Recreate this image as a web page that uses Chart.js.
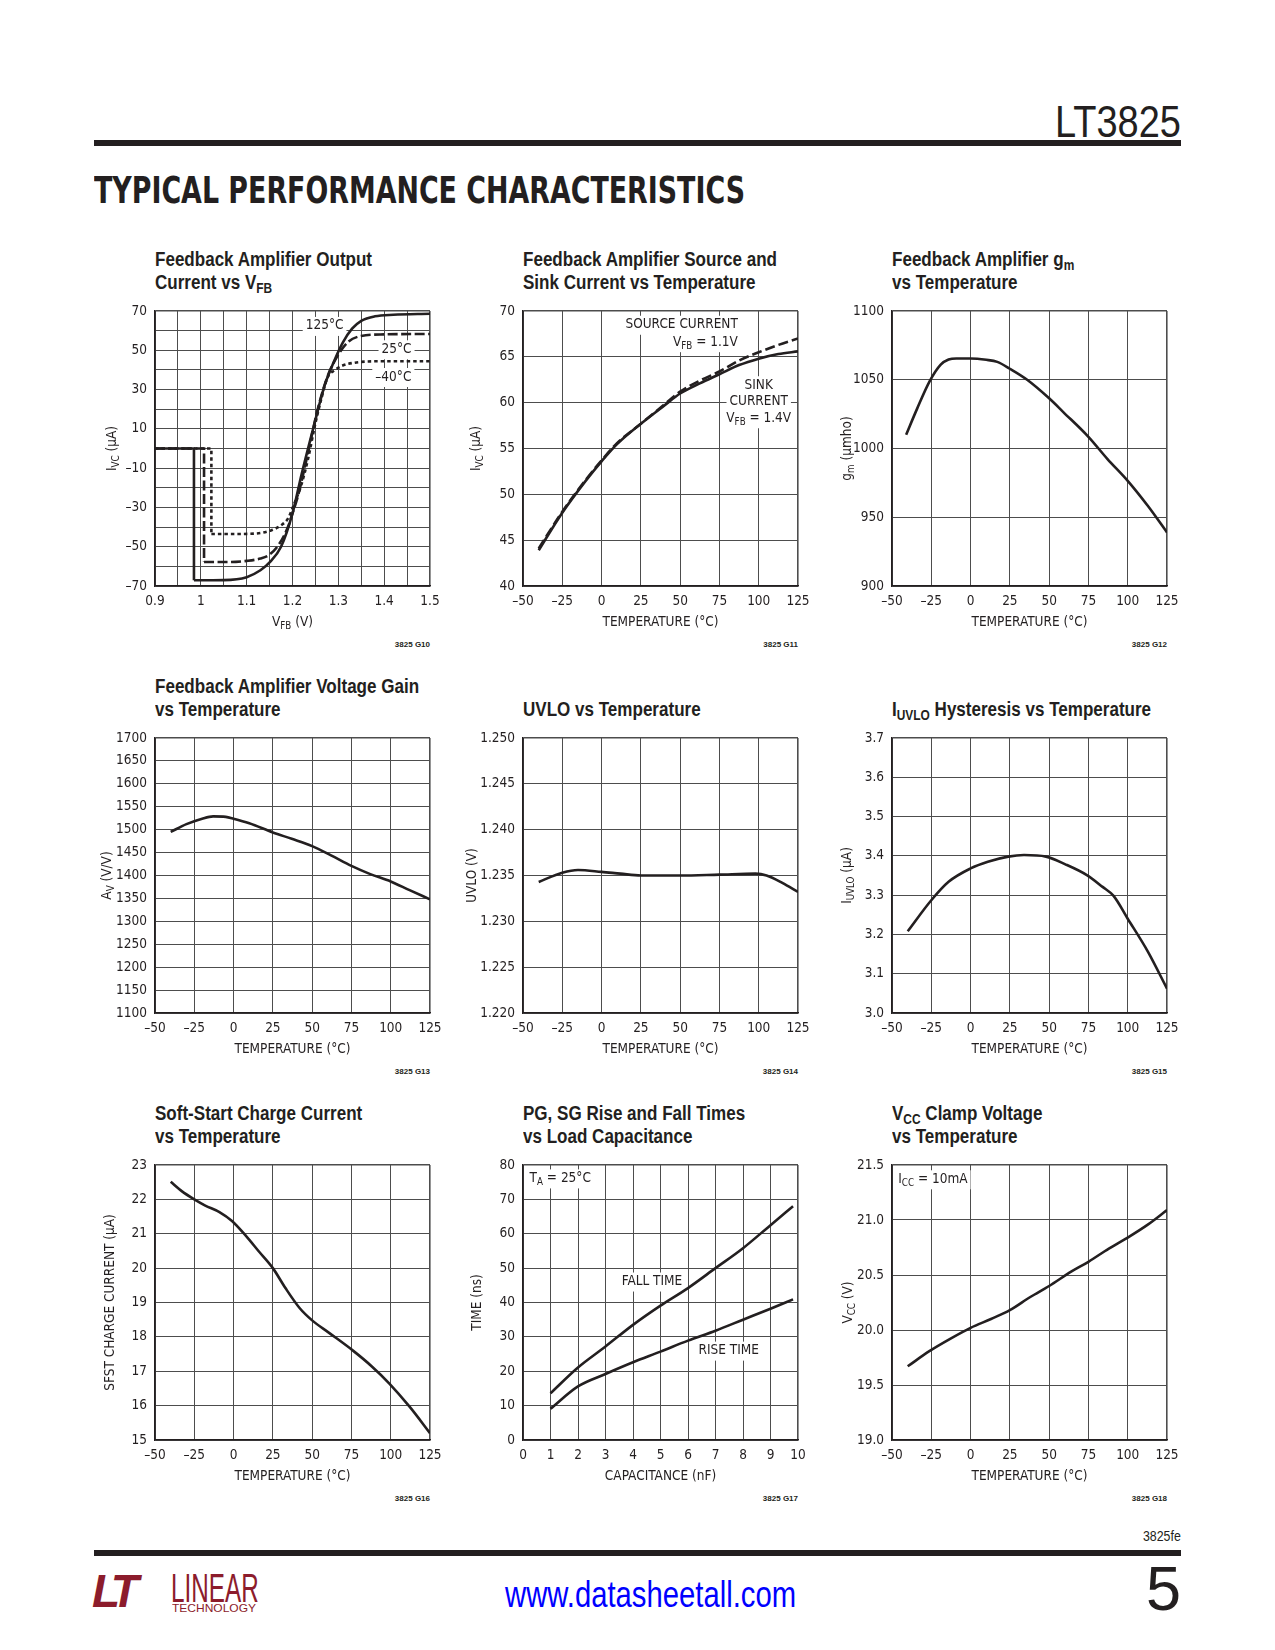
<!DOCTYPE html>
<html>
<head>
<meta charset="utf-8">
<title>LT3825 Typical Performance Characteristics</title>
<script src="https://cdn.jsdelivr.net/npm/chart.js@4.4.1/dist/chart.umd.min.js"></script>
<style>
  body { margin: 0; background: #fff; }
  #page { position: relative; width: 1275px; height: 1650px; overflow: hidden; color: #231f20;
          font-family: 'Liberation Sans', Arial, sans-serif; }
  .fit { position: absolute; display: inline-block; white-space: nowrap; }
  .rule { position: absolute; left: 94px; width: 1087px; height: 6px; background: #231f20; }
  .part { right: 94px; top: 100px; font-size: 44px; line-height: 44px; transform-origin: right top; }
  .section { left: 94px; top: 172px; font: bold 37px/37px 'DejaVu Sans Condensed', sans-serif; transform-origin: left top; }
  .ctitle { position: absolute; font-weight: bold; font-size: 20px; line-height: 23px; white-space: nowrap; transform-origin: left top; }
  .ctitle sub { font-size: 14px; line-height: 0; vertical-align: -4px; }
  .fig { position: absolute; font-weight: bold; font-size: 8px; line-height: 8px; }
  canvas { position: absolute; }
  .docno { right: 94px; top: 1529px; font-size: 14px; line-height: 14px; transform-origin: right top; }
  .lt { position: absolute; left: 92px; top: 1568px; font: italic bold 46px/46px 'Liberation Sans', sans-serif; color: #8c1c2c; letter-spacing: -6px; }
  .linear { left: 171px; top: 1572px; font-size: 40px; line-height: 32px; color: #8c1c2c; transform-origin: left top; }
  .tech { left: 172px; top: 1603px; font-size: 11px; line-height: 11px; color: #8c1c2c; transform-origin: left top; }
  .url { left: 505px; top: 1577px; font-size: 36px; line-height: 36px; color: #0000ff; transform-origin: left top; }
  .pageno { position: absolute; right: 94px; top: 1557px; font: 63px/63px 'Liberation Sans', sans-serif; }
</style>
</head>
<body>
<div id="page">
  <div class="fit part" data-w="126">LT3825</div>
  <div class="rule" style="top:140px"></div>
  <div class="fit section" data-w="651">TYPICAL PERFORMANCE CHARACTERISTICS</div>
  <div class="fit docno" data-w="38">3825fe</div>
  <div class="rule" style="top:1550px"></div>
  <div class="lt">LT</div>
  <div class="fit linear" data-w="88">LINEAR</div>
  <div class="fit tech" data-w="84">TECHNOLOGY</div>
  <div class="fit url" data-w="291">www.datasheetall.com</div>
  <div class="pageno">5</div>
</div>
<script>
// ---- data ----
const tempTicks = [-50, -25, 0, 25, 50, 75, 100, 125];

// G10: feedback amplifier output current vs VFB
const vfbTicks = [0.9, 1, 1.1, 1.2, 1.3, 1.4, 1.5];
const ivcTicks = [-70, -50, -30, -10, 10, 30, 50, 70];
const vfb125 = [0.9, 0.985, 0.985, 1.05, 1.1, 1.13, 1.15, 1.175, 1.2, 1.22, 1.245, 1.27, 1.29, 1.31, 1.33, 1.35, 1.38, 1.42, 1.5];
const ivc125 = [0, 0, -67.1, -67, -65.5, -62, -58, -50, -33, -13, 10, 32, 44, 54, 61, 65, 67.3, 68.1, 68.6];
const vfb25 = [0.9, 1.007, 1.007, 1.06, 1.1, 1.13, 1.15, 1.17, 1.19, 1.2, 1.212, 1.234, 1.255, 1.277, 1.299, 1.321, 1.35, 1.4, 1.5];
const ivc25 = [0, 0, -57.8, -57.8, -57.2, -56, -54, -49, -40, -33, -24, -2, 20, 37, 47.4, 54.2, 57.3, 58.1, 58.3];
const vfbM40 = [0.9, 1.023, 1.023, 1.08, 1.12, 1.153, 1.175, 1.19, 1.204, 1.219, 1.234, 1.249, 1.263, 1.277, 1.292, 1.307, 1.336, 1.387, 1.5];
const ivcM40 = [0, 0, -43.5, -43.5, -43.3, -41.7, -39.1, -35.7, -28, -18.7, -5.2, 11.8, 25.4, 36.4, 39.8, 42, 43.7, 44.4, 44.4];

// G11: source and sink current vs temperature
const ivcTempTicks = [40, 45, 50, 55, 60, 65, 70];
const srcTemp = [-40, -25, -10, 0, 10, 25, 40, 50, 62.5, 75, 87.5, 100, 112.5, 125];
const sinkIvc = [43.9, 48.0, 51.5, 53.6, 55.5, 57.7, 59.7, 61.0, 62.1, 63.1, 64.1, 64.8, 65.3, 65.6];
const sourceIvc = [44.1, 48.1, 51.6, 53.7, 55.6, 57.7, 59.8, 61.2, 62.4, 63.4, 64.6, 65.5, 66.3, 67.0];

// G12: gm vs temperature
const gmTicks = [900, 950, 1000, 1050, 1100];
const gmTemp = [-41, -34, -26, -19, -14, -9, 0, 10, 17, 25, 36, 50, 59, 75, 87, 100, 113, 125];
const gmVal = [1010, 1029, 1049, 1061, 1064.7, 1065.5, 1065.5, 1064.5, 1063, 1058, 1050, 1036.5, 1026.5, 1008.5, 992.5, 976.5, 958, 939];

// G13: voltage gain vs temperature
const avTicks = [1100, 1150, 1200, 1250, 1300, 1350, 1400, 1450, 1500, 1550, 1600, 1650, 1700];
const avTemp = [-40, -30, -20, -13, -5, 0, 10, 25, 37, 50, 62, 75, 87, 100, 112, 125];
const avVal = [1495, 1512, 1524, 1529, 1528, 1524, 1514, 1494, 1480, 1464, 1444, 1421, 1403, 1387, 1368, 1348];

// G14: UVLO vs temperature
const uvloTicks = [1.220, 1.225, 1.230, 1.235, 1.240, 1.245, 1.250];
const uvloTemp = [-40, -25, -15, 0, 12, 25, 50, 75, 98, 105, 115, 125];
const uvloVal = [1.2343, 1.2353, 1.2356, 1.2354, 1.2352, 1.2350, 1.2350, 1.2351, 1.2352, 1.2350, 1.2342, 1.2332];

// G15: IUVLO hysteresis vs temperature
const iuvloTicks = [3.0, 3.1, 3.2, 3.3, 3.4, 3.5, 3.6, 3.7];
const iuvloTemp = [-40, -25, -14, 0, 11, 24, 34, 48, 60, 74, 84, 91, 100, 113, 125];
const iuvloVal = [3.208, 3.287, 3.334, 3.368, 3.385, 3.398, 3.402, 3.398, 3.379, 3.351, 3.321, 3.298, 3.24, 3.155, 3.062];

// G16: soft-start charge current vs temperature
const sfstTicks = [15, 16, 17, 18, 19, 20, 21, 22, 23];
const sfstTemp = [-40, -33, -25, -18, -9, -1, 8, 16, 25, 33, 42, 50, 61, 76, 88, 99, 112, 125];
const sfstVal = [22.51, 22.24, 22.0, 21.82, 21.63, 21.37, 20.93, 20.49, 20.0, 19.42, 18.84, 18.48, 18.11, 17.6, 17.14, 16.65, 15.97, 15.2];

// G17: PG, SG rise and fall times vs load capacitance
const capTicks = [0, 1, 2, 3, 4, 5, 6, 7, 8, 9, 10];
const timeTicks = [0, 10, 20, 30, 40, 50, 60, 70, 80];
const capNf = [1, 2, 3, 4, 5, 6, 7, 8, 9, 9.82];
const fallNs = [13.6, 21.1, 27.2, 33.5, 39.1, 44.2, 50.0, 55.8, 62.5, 68.0];
const riseNs = [9.1, 15.6, 19.2, 22.6, 25.7, 28.9, 31.8, 35.0, 38.2, 40.9];

// G18: VCC clamp voltage vs temperature
const vccTicks = [19.0, 19.5, 20.0, 20.5, 21.0, 21.5];
const vccTemp = [-40, -26, -13, 0, 13, 25, 38, 50, 64, 75, 88, 100, 113, 125];
const vccVal = [19.67, 19.81, 19.92, 20.02, 20.10, 20.18, 20.30, 20.40, 20.53, 20.62, 20.74, 20.84, 20.96, 21.09];

// ---- drawing ----
const FONT = "'DejaVu Sans Condensed', sans-serif";
const INK = '#231f20';
const GRID = '#4d4d4d';
const TXT = 13.5;
// canvas margins around the plot; PT/PR leave room for Chart.js label padding
const YW = 70, XH = 50, PT = 20, PR = 28;
const COLS = [155, 523, 892];
const ROWS = [311, 738, 1165];
const PW = 275, PH = 275;

const dash = s => s.replace('-', '\u2013');
const pts = (xs, ys) => xs.map((x, i) => ({ x, y: ys[i] }));

function richWidth(ctx, parts) {
  let w = 0;
  for (const [t, sub] of parts) {
    ctx.font = (sub ? TXT * 0.72 : TXT) + 'px ' + FONT;
    w += ctx.measureText(t).width;
  }
  return w;
}

function drawRich(ctx, parts, x, y, align) {
  const w = richWidth(ctx, parts);
  let cx = align === 'center' ? x - w / 2 : align === 'right' ? x - w : x;
  ctx.textBaseline = 'middle';
  ctx.textAlign = 'left';
  ctx.fillStyle = INK;
  for (const [t, sub] of parts) {
    ctx.font = (sub ? TXT * 0.72 : TXT) + 'px ' + FONT;
    ctx.fillText(t, cx, sub ? y + TXT * 0.3 : y);
    cx += ctx.measureText(t).width;
  }
}

const sheetText = {
  id: 'sheetText',
  beforeDatasetsDraw(chart, args, opts) {
    const { ctx, scales: { x, y } } = chart;
    ctx.save();
    ctx.fillStyle = '#fff';
    for (const n of opts.notes) {
      const w = richWidth(ctx, n.parts);
      const px = x.getPixelForValue(n.x), py = y.getPixelForValue(n.y);
      const left = n.align === 'center' ? px - w / 2 : n.align === 'right' ? px - w : px;
      ctx.fillRect(left - 3, py - 9, w + 6, 19);
    }
    ctx.restore();
  },
  afterDatasetsDraw(chart, args, opts) {
    const { ctx, chartArea: a, scales: { x, y } } = chart;
    ctx.save();
    for (const n of opts.notes) {
      drawRich(ctx, n.parts, x.getPixelForValue(n.x), y.getPixelForValue(n.y), n.align);
    }
    drawRich(ctx, opts.xTitle, (a.left + a.right) / 2, a.bottom + 36, 'center');
    ctx.translate(a.left - opts.yGap, (a.top + a.bottom) / 2);
    ctx.rotate(-Math.PI / 2);
    drawRich(ctx, opts.yTitle, 0, 0, 'center');
    ctx.restore();
  }
};

function axis(ax, horizontal) {
  const min = ax.labels[0], max = ax.labels[ax.labels.length - 1];
  const step = ax.step || (ax.labels[1] - ax.labels[0]);
  return {
    type: 'linear', min, max,
    afterFit: s => { if (horizontal) s.height = XH; else s.width = YW; },
    afterBuildTicks: s => {
      const vals = [];
      for (let i = 0; min + i * step <= max + 1e-9; i++) vals.push(+(min + i * step).toFixed(6));
      s.ticks = vals.map(v => ({ value: v }));
    },
    grid: {
      color: GRID, drawTicks: false,
      lineWidth: c => (c.tick && Math.abs(c.tick.value - max) < 1e-9) ? 1.6 : 1
    },
    border: { color: INK, width: 1.6 },
    ticks: {
      autoSkip: false, maxRotation: 0, padding: horizontal ? 7 : 8, color: INK,
      font: { family: FONT, size: TXT },
      callback: v => ax.labels.some(t => Math.abs(t - v) < 1e-9) ? dash(ax.fmt ? ax.fmt(v) : String(v)) : ''
    }
  };
}

function line(data, dashPattern, smooth) {
  return {
    data, borderColor: INK, borderWidth: 2.6, pointRadius: 0, fill: false,
    borderDash: dashPattern || [],
    tension: 0, cubicInterpolationMode: smooth === false ? 'default' : 'monotone'
  };
}

// split a step-then-curve trace into its vertical step and its smooth part
function stepCurve(xs, ys, dashPattern) {
  return [
    line(pts(xs.slice(0, 3), ys.slice(0, 3)), dashPattern, false),
    line(pts(xs.slice(2), ys.slice(2)), dashPattern)
  ];
}

const tempAxis = { labels: tempTicks };
const tempTitle = [['TEMPERATURE (\u00b0C)']];

const charts = [
  {
    fig: '3825 G10', col: 0, row: 0,
    title: 'Feedback Amplifier Output<br>Current vs V<sub>FB</sub>',
    x: { labels: vfbTicks, step: 0.05, fmt: v => String(+v.toFixed(2)) },
    y: { labels: ivcTicks, step: 10 },
    datasets: [
      ...stepCurve(vfb125, ivc125),
      ...stepCurve(vfb25, ivc25, [10, 3.5]),
      ...stepCurve(vfbM40, ivcM40, [3.5, 3])
    ],
    xTitle: [['V'], ['FB', 1], [' (V)']], yTitle: [['I'], ['VC', 1], [' (\u00b5A)']], yGap: 43,
    notes: [
      { x: 1.27, y: 62.4, parts: [['125\u00b0C']], align: 'center' },
      { x: 1.427, y: 50.5, parts: [['25\u00b0C']], align: 'center' },
      { x: 1.42, y: 36.4, parts: [['\u201340\u00b0C']], align: 'center' }
    ]
  },
  {
    fig: '3825 G11', col: 1, row: 0,
    title: 'Feedback Amplifier Source and<br>Sink Current vs Temperature',
    x: tempAxis, y: { labels: ivcTempTicks },
    datasets: [line(pts(srcTemp, sinkIvc)), line(pts(srcTemp, sourceIvc), [10, 4])],
    xTitle: tempTitle, yTitle: [['I'], ['VC', 1], [' (\u00b5A)']], yGap: 47,
    notes: [
      { x: 86.7, y: 68.5, parts: [['SOURCE CURRENT']], align: 'right' },
      { x: 86.7, y: 66.6, parts: [['V'], ['FB', 1], [' = 1.1V']], align: 'right' },
      { x: 100, y: 61.9, parts: [['SINK']], align: 'center' },
      { x: 100, y: 60.1, parts: [['CURRENT']], align: 'center' },
      { x: 100, y: 58.3, parts: [['V'], ['FB', 1], [' = 1.4V']], align: 'center' }
    ]
  },
  {
    fig: '3825 G12', col: 2, row: 0,
    title: 'Feedback Amplifier g<sub>m</sub><br>vs Temperature',
    x: tempAxis, y: { labels: gmTicks },
    datasets: [line(pts(gmTemp, gmVal))],
    xTitle: tempTitle, yTitle: [['g'], ['m', 1], [' (\u00b5mho)']], yGap: 45, notes: []
  },
  {
    fig: '3825 G13', col: 0, row: 1,
    title: 'Feedback Amplifier Voltage Gain<br>vs Temperature',
    x: tempAxis, y: { labels: avTicks },
    datasets: [line(pts(avTemp, avVal))],
    xTitle: tempTitle, yTitle: [['A'], ['V', 1], [' (V/V)']], yGap: 48, notes: []
  },
  {
    fig: '3825 G14', col: 1, row: 1, single: true,
    title: 'UVLO vs Temperature',
    x: tempAxis, y: { labels: uvloTicks, fmt: v => v.toFixed(3) },
    datasets: [line(pts(uvloTemp, uvloVal))],
    xTitle: tempTitle, yTitle: [['UVLO (V)']], yGap: 51, notes: []
  },
  {
    fig: '3825 G15', col: 2, row: 1, single: true,
    title: 'I<sub>UVLO</sub> Hysteresis vs Temperature',
    x: tempAxis, y: { labels: iuvloTicks, fmt: v => v.toFixed(1) },
    datasets: [line(pts(iuvloTemp, iuvloVal))],
    xTitle: tempTitle, yTitle: [['I'], ['UVLO', 1], [' (\u00b5A)']], yGap: 45, notes: []
  },
  {
    fig: '3825 G16', col: 0, row: 2,
    title: 'Soft-Start Charge Current<br>vs Temperature',
    x: tempAxis, y: { labels: sfstTicks },
    datasets: [line(pts(sfstTemp, sfstVal))],
    xTitle: tempTitle, yTitle: [['SFST CHARGE CURRENT (\u00b5A)']], yGap: 45, notes: []
  },
  {
    fig: '3825 G17', col: 1, row: 2,
    title: 'PG, SG Rise and Fall Times<br>vs Load Capacitance',
    x: { labels: capTicks }, y: { labels: timeTicks },
    datasets: [line(pts(capNf, fallNs)), line(pts(capNf, riseNs))],
    xTitle: [['CAPACITANCE (nF)']], yTitle: [['TIME (ns)']], yGap: 46,
    notes: [
      { x: 0.24, y: 76.1, parts: [['T'], ['A', 1], [' = 25\u00b0C']], align: 'left' },
      { x: 4.69, y: 46.1, parts: [['FALL TIME']], align: 'center' },
      { x: 7.48, y: 26.0, parts: [['RISE TIME']], align: 'center' }
    ]
  },
  {
    fig: '3825 G18', col: 2, row: 2,
    title: 'V<sub>CC</sub> Clamp Voltage<br>vs Temperature',
    x: tempAxis, y: { labels: vccTicks, fmt: v => v.toFixed(1) },
    datasets: [line(pts(vccTemp, vccVal))],
    xTitle: tempTitle, yTitle: [['V'], ['CC', 1], [' (V)']], yGap: 44,
    notes: [{ x: -46, y: 21.37, parts: [['I'], ['CC', 1], [' = 10mA']], align: 'left' }]
  }
];

const page = document.getElementById('page');

// squeeze the regular sans titles to the condensed width of the datasheet face
const probe = document.createElement('div');
probe.className = 'ctitle';
probe.textContent = 'Feedback Amplifier Voltage Gain';
page.appendChild(probe);
const titleScale = 264 / probe.offsetWidth;
page.removeChild(probe);

charts.forEach(c => {
  const left = COLS[c.col], top = ROWS[c.row];

  const title = document.createElement('div');
  title.className = 'ctitle';
  title.style.left = left + 'px';
  title.style.top = (top - 63 + (c.single ? 23 : 0)) + 'px';
  title.style.transform = 'scaleX(' + titleScale + ')';
  title.innerHTML = c.title;
  page.appendChild(title);

  const fig = document.createElement('div');
  fig.className = 'fig';
  fig.style.right = (1275 - left - PW) + 'px';
  fig.style.top = (top + PH + 55) + 'px';
  fig.textContent = c.fig;
  page.appendChild(fig);

  const canvas = document.createElement('canvas');
  canvas.width = PW + YW + PR;
  canvas.height = PH + PT + XH;
  canvas.style.left = (left - YW) + 'px';
  canvas.style.top = (top - PT) + 'px';
  page.appendChild(canvas);

  new Chart(canvas, {
    type: 'line',
    data: { datasets: c.datasets },
    plugins: [sheetText],
    options: {
      responsive: false,
      animation: false,
      events: [],
      layout: { padding: { top: PT, right: PR, left: 0, bottom: 0 } },
      plugins: {
        legend: { display: false },
        tooltip: { enabled: false },
        sheetText: { notes: c.notes, xTitle: c.xTitle, yTitle: c.yTitle, yGap: c.yGap }
      },
      scales: { x: axis(c.x, true), y: axis(c.y, false) }
    }
  });
});

document.querySelectorAll('.fit').forEach(el => {
  el.style.transform = 'scaleX(' + (el.dataset.w / el.offsetWidth) + ')';
});
</script>
</body>
</html>
